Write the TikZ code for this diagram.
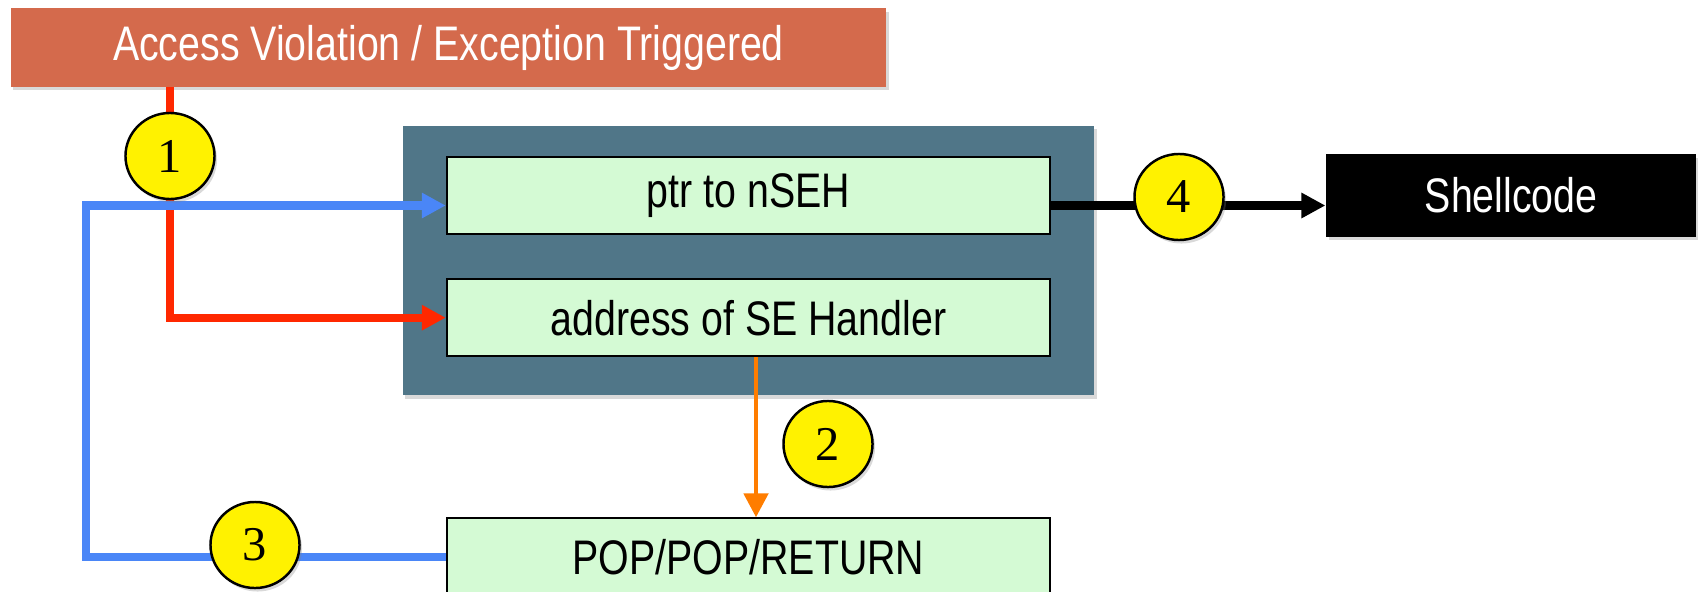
\documentclass[tikz,border=0pt]{standalone}
\usepackage{fontspec}
\usepackage{xcolor}
\usepackage{tikz}
\usetikzlibrary{shapes.geometric, arrows.meta, positioning, shadows}
\newfontfamily\narrowsans[FakeStretch=0.81]{Liberation Sans}
\newfontfamily\digitserif{Liberation Serif}
\definecolor{brickred}{RGB}{212,106,76}
\definecolor{slateteal}{RGB}{80,118,136}
\definecolor{mintfill}{RGB}{212,250,212}
\definecolor{wireblue}{RGB}{74,134,247}
\definecolor{wirered}{RGB}{255,40,0}
\definecolor{wireorange}{RGB}{255,125,0}

\begin{document}
\begin{tikzpicture}[
    x=0.01cm, y=-0.01cm,
    txt/.style={font=\narrowsans\fontsize{13.8}{16}\selectfont},
    soft/.style={drop shadow={shadow xshift=0.025cm, shadow yshift=-0.035cm, opacity=0.3}},
    hdr/.style={txt, fill=brickred, text=white, minimum width=8.75cm, minimum height=0.78cm,
                inner sep=0pt, soft},
    stackbox/.style={fill=slateteal, minimum width=6.91cm, minimum height=2.69cm, soft},
    slot/.style={txt, draw, line width=0.6pt, fill=mintfill, minimum width=6.03cm,
                 minimum height=0.77cm, inner sep=0pt},
    shellbox/.style={txt, fill=black, text=white, minimum width=3.70cm, minimum height=0.82cm,
                     inner sep=0pt, soft},
    badge/.style={ellipse, draw, line width=0.7pt, fill=yellow, minimum width=0.89cm,
                  minimum height=0.86cm, inner sep=0pt,
                  font=\digitserif\fontsize{13.8}{16}\selectfont, soft},
    arr/.style={-{Triangle[length=0.24cm, width=0.24cm]}, line width=2.3pt},
]
\useasboundingbox (0,0) rectangle (1698,591);

% exception bar and the SEH record
\node[hdr] (exc) at (448.5,47.5) {Access Violation / Exception Triggered};
\node[stackbox] (rec) at (748.5,260.5) {};
\node[slot] (ptr) at (748.5,195.5) {ptr to nSEH};
\node[slot, below=0.43cm of ptr] (addr) {address of SE Handler};
\node[slot, below=1.6cm of addr] (pop) {POP/POP/RETURN};
\node[shellbox, right=2.74cm of ptr] (shell) {Shellcode};

% flow
\coordinate (drop) at ([xshift=0.075cm]addr.south);
\draw[arr, wirered] (exc.south -| 170,0) |- (addr.west);
\draw[arr, wireblue] (pop.west) -- ++(-360,0) |- ([yshift=-0.1cm]ptr.west);
\draw[arr, wireorange, line width=1.4pt] (drop) -- (drop |- pop.north);
\draw[arr, black] ([yshift=-0.1cm]ptr.east) -- ([yshift=-0.1cm]ptr.east -| shell.west);

% step numbers
\node[badge] (s1) at (170,156) {1};
\node[badge] (s2) at (828,444) {2};
\node[badge] (s3) at (255,545) {3};
\node[badge] (s4) at (1179,197) {4};
\end{tikzpicture}
\end{document}
